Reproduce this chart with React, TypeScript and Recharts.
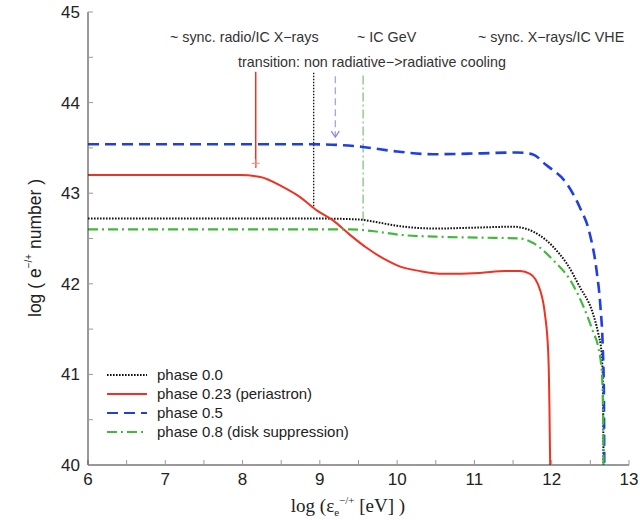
import React from 'react';
import { LineChart, Line, XAxis, YAxis, ReferenceLine, ReferenceDot, Label } from 'recharts';

// curve values: [log energy, log number]
const phase00: number[][] = [
  [6, 42.72], [7, 42.72], [8, 42.72], [9, 42.72], [9.5, 42.71], [9.8, 42.67], [10, 42.64],
  [10.5, 42.61], [11, 42.62], [11.5, 42.63], [11.75, 42.58], [11.93, 42.48], [12.1, 42.33],
  [12.19, 42.23], [12.36, 41.97], [12.53, 41.68], [12.6, 41.46], [12.645, 41.24],
  [12.66, 40.97], [12.667, 40.5], [12.67, 40],
];
const phase023: number[][] = [
  [6, 43.2], [7.5, 43.2], [7.97, 43.2], [8.23, 43.18], [8.52, 43.07], [8.74, 42.96],
  [8.96, 42.81], [9.17, 42.7], [9.39, 42.54], [9.6, 42.4], [9.82, 42.28], [10.04, 42.19],
  [10.3, 42.14], [10.6, 42.11], [11.07, 42.12], [11.4, 42.14], [11.59, 42.14], [11.72, 42.11],
  [11.85, 41.93], [11.91, 41.68], [11.955, 41.24], [11.97, 40.68], [11.98, 40],
];
const phase05: number[][] = [
  [6, 43.54], [8.9, 43.54], [9.3, 43.53], [9.56, 43.51], [10, 43.46], [10.46, 43.43],
  [11.1, 43.44], [11.55, 43.45], [11.75, 43.43], [11.93, 43.31], [12.19, 43.11],
  [12.36, 42.85], [12.49, 42.56], [12.58, 42.15], [12.63, 41.75], [12.66, 41.31],
  [12.675, 40.8], [12.68, 40],
];
const phase08: number[][] = [
  [6, 42.6], [9.4, 42.6], [9.7, 42.58], [10.04, 42.54], [10.5, 42.52], [11.07, 42.51],
  [11.59, 42.5], [11.76, 42.45], [12.02, 42.26], [12.24, 42.04], [12.41, 41.75],
  [12.54, 41.46], [12.6, 41.31], [12.65, 41.0], [12.665, 40.5], [12.67, 40],
];

const xTicks = [6, 6.5, 7, 7.5, 8, 8.5, 9, 9.5, 10, 10.5, 11, 11.5, 12, 12.5, 13];
const yTicks = [40, 40.5, 41, 41.5, 42, 42.5, 43, 43.5, 44, 44.5, 45];

// vertical markers: x, top, bottom
const markRadio = [8.17, 44.34, 43.28];
const markTransition = [8.92, 44.33, 42.84];
const markArrow = [9.2, 44.29, 43.62];
const markGeV = [9.56, 44.3, 42.62];

const series = [
  { name: 'phase 0.0', data: phase00, color: '#111111', dash: '1.6 1.4', width: 2 },
  { name: 'phase 0.23 (periastron)', data: phase023, color: '#ee3224', dash: undefined, width: 2 },
  { name: 'phase 0.5', data: phase05, color: '#1f3fe0', dash: '11 6', width: 2.6 },
  { name: 'phase 0.8 (disk suppression)', data: phase08, color: '#44b83c', dash: '10 4 2 4', width: 2.2 },
];

const toRows = (pts: number[][]) => pts.map(([x, y]) => ({ x, y }));
const intLabel = (v: number) => (Number.isInteger(v) ? String(v) : '');
const blank = () => '';

const tickFont = { fontFamily: 'Liberation Sans, Arial, sans-serif', fontSize: 17, fill: '#222' };
const noteStyle: React.CSSProperties = {
  position: 'absolute',
  fontFamily: 'Liberation Sans, Arial, sans-serif',
  fontSize: 14.3,
  color: '#333',
  whiteSpace: 'nowrap',
};

const Arrowhead = (props: any) => {
  const { cx, cy } = props;
  return <path d={`M${cx - 4},${cy - 6} L${cx},${cy} L${cx + 4},${cy - 6}`} stroke="#8a86e2" strokeWidth={1.3} fill="none" />;
};
const Plus = (props: any) => {
  const { cx, cy } = props;
  return <path d={`M${cx - 4},${cy} L${cx + 4},${cy} M${cx},${cy - 4} L${cx},${cy + 4}`} stroke="#f08a80" strokeWidth={1} fill="none" />;
};

const App = () => {
  return (
    <div style={{ position: 'absolute', left: 0, top: 0, width: 640, height: 520, background: '#fff' }}>
      <LineChart width={640} height={520} margin={{ top: 12, right: 11, bottom: 0, left: 0 }}>
        <XAxis
          xAxisId="b" type="number" dataKey="x" domain={[6, 13]} ticks={xTicks} allowDuplicatedCategory={false}
          tickFormatter={intLabel} tickSize={-5} tickMargin={13} tick={tickFont} interval={0}
          stroke="#333" tickLine={{ stroke: '#999' }} height={55}
        >
          <Label
            content={() => (
              <text x={348} y={512} textAnchor="middle" fontFamily="Liberation Serif, Times New Roman, serif" fontSize={19} fill="#222">
                log (ε
                <tspan fontSize={11} dy={4}>e</tspan>
                <tspan fontSize={11} dy={-12}>−/+</tspan>
                <tspan dy={8}> [eV] )</tspan>
              </text>
            )}
          />
        </XAxis>
        <XAxis
          xAxisId="t" orientation="top" type="number" dataKey="x" domain={[6, 13]} ticks={xTicks}
          tickFormatter={blank} tickSize={-5} stroke="#333" tickLine={{ stroke: '#999' }} height={0} interval={0}
        />
        <YAxis
          yAxisId="l" type="number" domain={[40, 45]} ticks={yTicks} tickFormatter={intLabel} interval={0}
          tickSize={-5} tickMargin={13} tick={tickFont} stroke="#333" tickLine={{ stroke: '#999' }} width={88}
        >
          <Label
            content={() => (
              <text x={41} y={248} transform="rotate(-90 41 248)" textAnchor="middle" fontFamily="Liberation Sans, Arial, sans-serif" fontSize={17.5} fill="#222">
                log ( e
                <tspan fontSize={10} dy={-9}>−/+</tspan>
                <tspan dy={9}> number )</tspan>
              </text>
            )}
          />
        </YAxis>
        <YAxis
          yAxisId="r" orientation="right" type="number" domain={[40, 45]} ticks={yTicks} tickFormatter={blank}
          tickSize={-5} stroke="#333" tickLine={{ stroke: '#999' }} width={0} interval={0}
        />

        <ReferenceLine xAxisId="b" yAxisId="l" segment={[{ x: markRadio[0], y: markRadio[1] }, { x: markRadio[0], y: markRadio[2] }]} stroke="#ee3224" strokeWidth={1.5} />
        <ReferenceLine xAxisId="b" yAxisId="l" segment={[{ x: markTransition[0], y: markTransition[1] }, { x: markTransition[0], y: markTransition[2] }]} stroke="#111" strokeWidth={1.3} strokeDasharray="1.5 1.5" />
        <ReferenceLine xAxisId="b" yAxisId="l" segment={[{ x: markArrow[0], y: markArrow[1] }, { x: markArrow[0], y: markArrow[2] }]} stroke="#a6a2ea" strokeWidth={1.3} strokeDasharray="7 4" />
        <ReferenceLine xAxisId="b" yAxisId="l" segment={[{ x: markGeV[0], y: markGeV[1] }, { x: markGeV[0], y: markGeV[2] }]} stroke="#8fd08a" strokeWidth={1.5} strokeDasharray="9 3 2 3" />
        <ReferenceDot xAxisId="b" yAxisId="l" x={markArrow[0]} y={markArrow[2]} shape={<Arrowhead />} />
        <ReferenceDot xAxisId="b" yAxisId="l" x={markRadio[0]} y={43.33} shape={<Plus />} />

        {series.map((s) => (
          <Line
            key={s.name} xAxisId="b" yAxisId="l" data={toRows(s.data)} dataKey="y" type="monotone"
            stroke={s.color} strokeWidth={s.width} strokeDasharray={s.dash} dot={false} isAnimationActive={false}
          />
        ))}
      </LineChart>

      <div style={{ ...noteStyle, left: 170, top: 29 }}>~ sync. radio/IC X−rays</div>
      <div style={{ ...noteStyle, left: 357, top: 29 }}>~ IC GeV</div>
      <div style={{ ...noteStyle, left: 478, top: 29 }}>~ sync. X−rays/IC VHE</div>
      <div style={{ ...noteStyle, left: 238, top: 54 }}>transition: non radiative−&gt;radiative cooling</div>

      <div style={{ position: 'absolute', left: 106, top: 365, fontFamily: 'Liberation Sans, Arial, sans-serif', fontSize: 15, color: '#222' }}>
        {series.map((s) => (
          <div key={s.name} style={{ display: 'flex', alignItems: 'center', height: 19 }}>
            <svg width={42} height={10} style={{ marginRight: 9 }}>
              <line x1={1} y1={5} x2={41} y2={5} stroke={s.color} strokeWidth={s.width > 2.3 ? 2 : 1.8} strokeDasharray={s.dash} />
            </svg>
            <span>{s.name}</span>
          </div>
        ))}
      </div>
    </div>
  );
};

export default App;
